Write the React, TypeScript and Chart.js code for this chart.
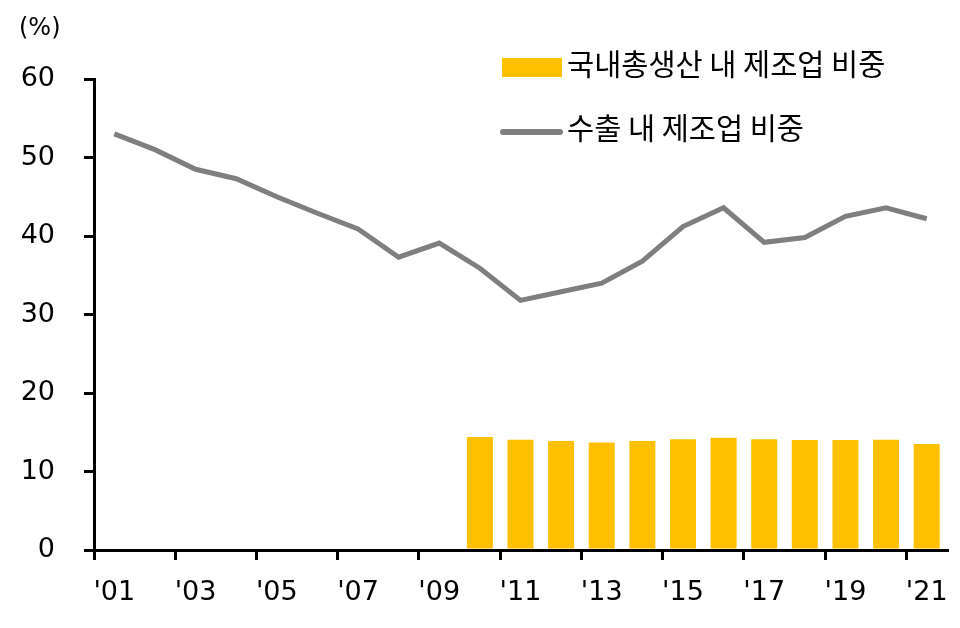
import React, { useEffect, useRef } from "react";
import { Chart, registerables } from "chart.js";

Chart.register(...registerables);

const years = [
  "'01", "'02", "'03", "'04", "'05", "'06", "'07", "'08", "'09", "'10",
  "'11", "'12", "'13", "'14", "'15", "'16", "'17", "'18", "'19", "'20", "'21",
];

const gdpShare: (number | null)[] = [
  null, null, null, null, null, null, null, null, null,
  14.4, 14.05, 13.9, 13.7, 13.9, 14.1, 14.3, 14.1, 14.0, 14.0, 14.05, 13.5,
];

const exportShare = [
  53.0, 51.0, 48.5, 47.3, 45.0, 42.9, 40.9, 37.3, 39.1, 35.9,
  31.8, 32.9, 34.0, 36.8, 41.2, 43.6, 39.2, 39.8, 42.5, 43.6, 42.2,
];

const seriesNames = ["국내총생산 내 제조업 비중", "수출 내 제조업 비중"];
const unitLabel = "(%)";

const BAR_COLOR = "#FFC000";
const LINE_COLOR = "#7F7F7F";
const KFONT = "'Noto Sans CJK KR', 'Noto Sans', sans-serif";
const NFONT = "'DejaVu Sans', 'Noto Sans CJK KR', sans-serif";

const overlayPlugin = {
  id: "overlay",
  afterDraw(chart: any) {
    const ctx = chart.ctx as CanvasRenderingContext2D;
    ctx.save();
    ctx.fillStyle = "#000";
    ctx.textBaseline = "middle";
    ctx.textAlign = "left";
    ctx.font = `24px ${NFONT}`;
    ctx.fillText(unitLabel, 19, 29);

    const ds = chart.data.datasets;
    const bar = ds.find((d: any) => d.type === "bar");
    const line = ds.find((d: any) => d.type === "line");
    ctx.font = `29.5px ${KFONT}`;
    // bar legend
    ctx.fillStyle = bar.backgroundColor;
    ctx.fillRect(502, 58, 60, 19);
    ctx.fillStyle = "#000";
    ctx.fillText(bar.label, 567, 64);
    // line legend
    ctx.strokeStyle = line.borderColor;
    ctx.lineWidth = 6;
    ctx.lineCap = "round";
    ctx.beginPath();
    ctx.moveTo(503, 132);
    ctx.lineTo(560, 132);
    ctx.stroke();
    ctx.fillText(line.label, 567, 128);
    ctx.restore();
  },
};

export default function App() {
  const ref = useRef<HTMLCanvasElement | null>(null);

  useEffect(() => {
    if (!ref.current) return;
    const chart = new Chart(ref.current, {
      type: "bar",
      data: {
        labels: years,
        datasets: [
          {
            type: "bar",
            label: seriesNames[0],
            data: gdpShare,
            backgroundColor: BAR_COLOR,
            barPercentage: 0.64,
            categoryPercentage: 1,
            order: 1,
          },
          {
            type: "line",
            label: seriesNames[1],
            data: exportShare,
            borderColor: LINE_COLOR,
            backgroundColor: LINE_COLOR,
            borderWidth: 5,
            pointRadius: 0,
            tension: 0,
            order: 0,
          } as any,
        ],
      },
      options: {
        animation: false,
        responsive: false,
        maintainAspectRatio: false,
        devicePixelRatio: 1,
        layout: { padding: { top: 79, right: 13, left: 0, bottom: 0 } },
        plugins: {
          legend: { display: false },
          tooltip: { enabled: false },
          title: { display: false },
        },
        scales: {
          x: {
            offset: true,
            grid: {
              offset: true,
              drawOnChartArea: false,
              tickLength: 10,
              color: (c: any) => (c.index % 2 === 0 ? "#000" : "rgba(0,0,0,0)"),
              lineWidth: 3,
            },
            border: { color: "#000", width: 3 },
            ticks: {
              autoSkip: false,
              maxRotation: 0,
              padding: 17,
              color: "#000",
              font: { family: NFONT, size: 27 },
              callback: (_v: any, i: number) => (i % 2 === 0 ? years[i] : ""),
            },
            afterFit: (s: any) => {
              s.height = 78;
              s.paddingLeft = 0;
              s.paddingRight = 0;
            },
          },
          y: {
            min: 0,
            max: 60,
            grid: {
              drawOnChartArea: false,
              tickLength: 10,
              color: "#000",
              lineWidth: 3,
            },
            border: { color: "#000", width: 3 },
            ticks: {
              stepSize: 10,
              padding: 29,
              color: "#000",
              font: { family: NFONT, size: 27 },
            },
            afterFit: (s: any) => {
              s.width = 94;
              s.paddingTop = 0;
              s.paddingBottom = 0;
            },
          },
        },
      },
      plugins: [overlayPlugin],
    });
    return () => chart.destroy();
  }, []);

  return (
    <div style={{ position: "absolute", left: 0, top: 0, width: 960, height: 628, background: "#fff" }}>
      <canvas ref={ref} width={960} height={628} style={{ width: 960, height: 628, display: "block" }} />
    </div>
  );
}
